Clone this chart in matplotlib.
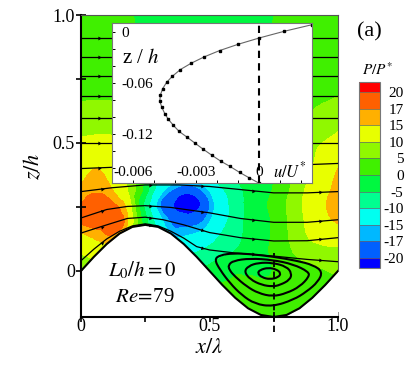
import matplotlib
matplotlib.use('Agg')
import matplotlib.pyplot as plt
import matplotlib.tri as mtri
from matplotlib.path import Path
from matplotlib.patches import PathPatch
import numpy as np

plt.rcParams['font.family'] = ['Liberation Serif', 'DejaVu Serif']
plt.rcParams['mathtext.fontset'] = 'stix'

# pressure field, rows = field_z, columns = field_x
field_x = [0, .06, .12, .18, .24, .3, .36, .42, .48, .54, .6, .66, .72, .78, .84, .9, .96, 1]
field_z = [-.18, -.08, 0, .08, .14, .2, .26, .32, .4, .5, .6, .72, .85, 1]
field_p = [
    [2, 2, 2, 2, 2, 2, 2, 2, 2, 2, 2, 2, 2, 2, 2, 2, 2, 2],
    [4, 4, 4, 3, 2, 1, 0, 0, 0, 1, 1, 1.5, 1.5, 1.5, 2, 3, 4, 4],
    [5, 6, 6, 4, 2, -1, -4, -5, -4, -2, -.5, -.5, -.5, 1, 2.5, 4, 5, 5.5],
    [11, 13, 13, 7, 0, -5, -10, -11, -9.5, -7, -5, -2.5, -.5, 2.5, 6, 8, 9, 9],
    [14.5, 15.8, 17, 13, 1, -8, -15.5, -15, -13.5, -10, -7, -3, -1, 3, 7.5, 11, 12.5, 13],
    [17.5, 18.5, 18, 15.5, -1, -13, -18, -18.5, -17, -12, -8, -3, -1, 3, 8, 12, 14.5, 15.5],
    [17, 18.5, 17.5, 13.5, -4, -16, -20, -22, -19, -13, -8, -3, -.3, 3.5, 8.5, 12.5, 15.2, 16.5],
    [15.5, 16.5, 15, 10, 0, -12, -17, -18.5, -16, -11, -7, -3, -1, 2, 7.5, 12, 14.5, 16],
    [13.5, 15, 13, 8, 0, -6, -9, -10, -8, -5, -3, -1, 0, 1, 5, 10, 13, 15],
    [10.8, 11.2, 11, 8, 3, 0, -2, -3, -2, -1, 0, 0, 1, 2, 3, 8.5, 10.5, 11.5],
    [7, 7.2, 7, 5, 3, 1, 0, -1, -1, 0, 0, 0, 1, 1, 3, 5.5, 7, 8],
    [3.5, 3.5, 3.5, 3, 2, 1, 0, -1, -1, 0, 0, 0, 1, 1, 2, 3, 3.5, 4],
    [2, 2, 1.8, 1, .5, 0, -1, -1, -1, -1, -1, -.5, 0, 1, 1.5, 2, 2, 2],
    [1, 1, .8, .3, -.5, -.8, -1, -1, -1, -1, -1, -.8, -.5, .5, 1, 1, 1, 1],
]
levels = [-20, -17, -15, -10, -5, 0, 5, 10, 15, 17, 20]
level_colors = ['#0000ff', '#0060ff', '#00b8ff', '#00fff0', '#00ff90', '#00f840',
                '#40f000', '#90f800', '#e8ff00', '#ffb000', '#ff6000', '#ff0000']

# wavy wall
wall_x = [0, .05, .1, .15, .2, .25, .3, .35, .4, .45, .5, .55, .6, .65, .7, .75, .8, .85, .9, .95, 1]
wall_z = [0, .055, .105, .146, .172, .18, .172, .146, .105, .055, 0, -.055, -.105, -.146, -.172,
          -.18, -.172, -.146, -.105, -.055, 0]

# streamlines above the inset (only the strips left and right of it show)
flat_z = [.91, .836, .76, .684, .597, .5]
upper_x = [0, .25, .5, .75, 1]
upper_z = [.40, .41, .41, .41, .42]
s1_x = [0, .12, .25, .38, .5, .62, .75, .88, 1]
s1_z = [.31, .325, .336, .336, .33, .318, .305, .305, .31]
s2_x = [0, .1, .18, .25, .35, .5, .62, .75, .88, 1]
s2_z = [.207, .24, .252, .255, .248, .227, .205, .19, .19, .2]
s3_x = [0, .1, .18, .25, .32, .4, .5, .62, .75, .88, 1]
s3_z = [.148, .18, .205, .21, .2, .18, .15, .13, .117, .118, .13]
s4_x = [0, .05, .1, .15, .2, .25, .3, .35, .4, .45, .5, .6, .75, .88, 1]
s4_z = [.04, .085, .125, .155, .176, .184, .176, .155, .128, .095, .082, .07, .058, .045, .036]

# recirculation loops
loop1_x = [.519, .541, .593, .658, .746, .839, .904, .940, .923, .878, .826, .746, .677, .625, .580, .541]
loop1_z = [.045, .062, .069, .066, .056, .040, .023, -.003, -.042, -.081, -.113, -.139, -.129, -.094, -.048, .004]
loop2_x = [.573, .593, .658, .746, .826, .885, .888, .852, .800, .746, .690, .645, .599, .577]
loop2_z = [.023, .040, .049, .043, .026, -.003, -.022, -.061, -.087, -.100, -.087, -.061, -.022, .004]
loop3_x = [.635, .651, .690, .746, .800, .820, .813, .774, .746, .703, .658]
loop3_z = [-.003, .019, .032, .032, .017, -.009, -.035, -.055, -.061, -.055, -.033]
loop4_x = [.687, .696, .729, .761, .778, .768, .735, .703]
loop4_z = [-.009, .004, .013, .006, -.009, -.025, -.033, -.025]

# inset velocity profile
profile_u = [.00252, .00119, 0, -.001, -.00189, -.00262, -.00324, -.00375, -.00413, -.0044, -.00459,
             -.0047, -.00473, -.00463, -.00449, -.00432, -.00408, -.00381, -.00344, -.00306, -.00268,
             -.00227, -.00184, -.0014, -.00094, -.00049, 0]
profile_z = [.0086, .0008, -.0071, -.0145, -.022, -.0294, -.0369, -.0443, -.0522, -.0592, -.0667,
             -.0741, -.0816, -.089, -.0965, -.1031, -.1102, -.1173, -.1239, -.131, -.138, -.1451,
             -.1522, -.1584, -.1655, -.1718, -.1784]


def arrows(ax, xs, zs, where):
    # small arrow heads sitting on a streamline
    xs = np.array(xs)
    zs = np.array(zs)
    for xp in where:
        zp = np.interp(xp, xs, zs)
        slope = (np.interp(xp + .01, xs, zs) - zp) / .01 * 302 / 1.18 / 257
        ang = np.degrees(np.arctan(slope)) - 90
        ax.plot(xp, zp, marker=(3, 0, ang), ms=3.2, color='k', mew=0, zorder=4)


def closed_curve(ax, xs, zs):
    # closed quadratic path through the mid points, vertices act as control points
    pts = np.column_stack([xs, zs])
    mids = (pts + np.roll(pts, -1, axis=0)) / 2
    verts = [mids[-1]]
    codes = [Path.MOVETO]
    for p, m in zip(pts, mids):
        verts += [p, m]
        codes += [Path.CURVE3, Path.CURVE3]
    ax.add_patch(PathPatch(Path(verts, codes), fc='none', ec='k', lw=1.5, zorder=3))


W, H = 415.0, 369.0
fig = plt.figure(figsize=(4.15, 3.69), dpi=100)
ax = fig.add_axes([81 / W, 1 - 317 / H, 257 / W, 302 / H])

gx, gz = np.meshgrid(field_x, field_z)
tri = mtri.Triangulation(gx.ravel(), gz.ravel())
refiner = mtri.UniformTriRefiner(tri)
interp = mtri.CubicTriInterpolator(tri, np.array(field_p).ravel(), kind='geom')
tri2, p2 = refiner.refine_field(np.array(field_p).ravel(), triinterpolator=interp, subdiv=3)
cs = ax.tricontourf(tri2, p2, levels=levels, colors=level_colors[1:-1], extend='both', zorder=1)
cs.cmap.set_under(level_colors[0])
cs.cmap.set_over(level_colors[-1])

ax.fill_between(wall_x, wall_z, -.18, color='white', lw=0, zorder=2)
ax.plot(wall_x, wall_z, color='k', lw=1.5, zorder=3)

for z in flat_z:
    ax.plot([0, 1], [z, z], color='k', lw=.9, zorder=3)
    arrows(ax, [0, 1], [z, z], [.07])
ax.plot(upper_x, upper_z, color='k', lw=.9, zorder=3)
arrows(ax, upper_x, upper_z, [.07])
for lx, lz in [(s1_x, s1_z), (s2_x, s2_z), (s3_x, s3_z), (s4_x, s4_z)]:
    ax.plot(lx, lz, color='k', lw=.9, zorder=3)
    arrows(ax, lx, lz, [.08, .27, .47, .67, .93])

for lx, lz in [(loop1_x, loop1_z), (loop2_x, loop2_z), (loop3_x, loop3_z), (loop4_x, loop4_z)]:
    closed_curve(ax, lx, lz)

ax.plot([.75, .75], [-.24, .07], color='k', lw=1.3, ls=(0, (3.5, 2.5)), zorder=4, clip_on=False)

ax.set_xlim(0, 1)
ax.set_ylim(-.18, 1)
ax.set_xticks([0, .25, .5, .75, 1])
ax.set_xticklabels(['0', '', '0.5', '', '1.0'], fontsize=13)
ax.set_yticks([0, .25, .5, .75, 1])
ax.set_yticklabels(['0', '', '0.5', '', '1.0'], fontsize=13)
ax.tick_params(direction='inout', length=7, width=1.2, pad=1)
ax.tick_params(axis='x', pad=-3)
for side in ['left', 'bottom']:
    ax.spines[side].set_linewidth(1.5)
for side in ['top', 'right']:
    ax.spines[side].set_color('#555555')
ax.spines['right'].set_bounds(0, 1)
ax.set_xlabel(r'$x/\lambda$', fontsize=16, labelpad=3)
ax.set_ylabel(r'$z/h$', fontsize=16, labelpad=6)
ax.text(.24, 0, r'$L_0/h=0$', fontsize=15, ha='center', va='center', zorder=5)
ax.text(.25, -.105, r'$Re\!=\!$79', fontsize=15, ha='center', va='center', zorder=5)

# inset
ins = fig.add_axes([112 / W, 1 - 183 / H, 200 / W, 160 / H], zorder=5)
ins.plot(profile_u, profile_z, color='#666666', lw=.8, marker='s', ms=2, mfc='k', mec='k')
ins.axvline(0, color='k', lw=1.5, ls=(0, (3.5, 2.5)))
ins.set_xlim(-.007, .0025)
ins.set_ylim(-.178, .0105)
ins.set_xticks([-.006, -.003, 0])
ins.set_xticklabels(['-0.006', '-0.003', '0'], fontsize=11)
ins.set_xticks(np.arange(-.007, .0026, .001), minor=True)
ins.set_yticks([0, -.06, -.12])
ins.set_yticklabels(['0', '-0.06', '-0.12'], fontsize=11, ha='left')
ins.set_yticks(np.arange(-.16, .001, .02), minor=True)
ins.tick_params(which='both', direction='in', length=2.5, width=.7)
ins.tick_params(axis='x', pad=-12)
ins.tick_params(axis='y', pad=-7)
for s in ins.spines.values():
    s.set_color('#777777')
ins.text(.05, .78, r'z / $h$', transform=ins.transAxes, fontsize=15, va='center')
ins.text(.805, .075, r'$u/U^{*}$', transform=ins.transAxes, fontsize=12, va='center')

# pressure legend
cax = fig.add_axes([359 / W, 1 - 268 / H, 21 / W, 186 / H])
cb = fig.colorbar(cs, cax=cax, spacing='uniform', extendrect=True, extendfrac=.06, drawedges=True)
cb.set_ticks(levels)
cb.set_ticklabels([str(v) for v in levels], fontsize=11, ha='right')
cb.ax.tick_params(length=0, pad=17)
cb.outline.set_edgecolor('#777777')
cb.dividers.set_color('#666666')
cb.dividers.set_linewidth(.5)

fig.text(369 / W, 1 - 32 / H, '(a)', fontsize=16, ha='center', va='center')
fig.text(378 / W, 1 - 70 / H, r'$P/P^{*}$', fontsize=11, ha='center', va='center')

fig.savefig('out.png', dpi=100)
